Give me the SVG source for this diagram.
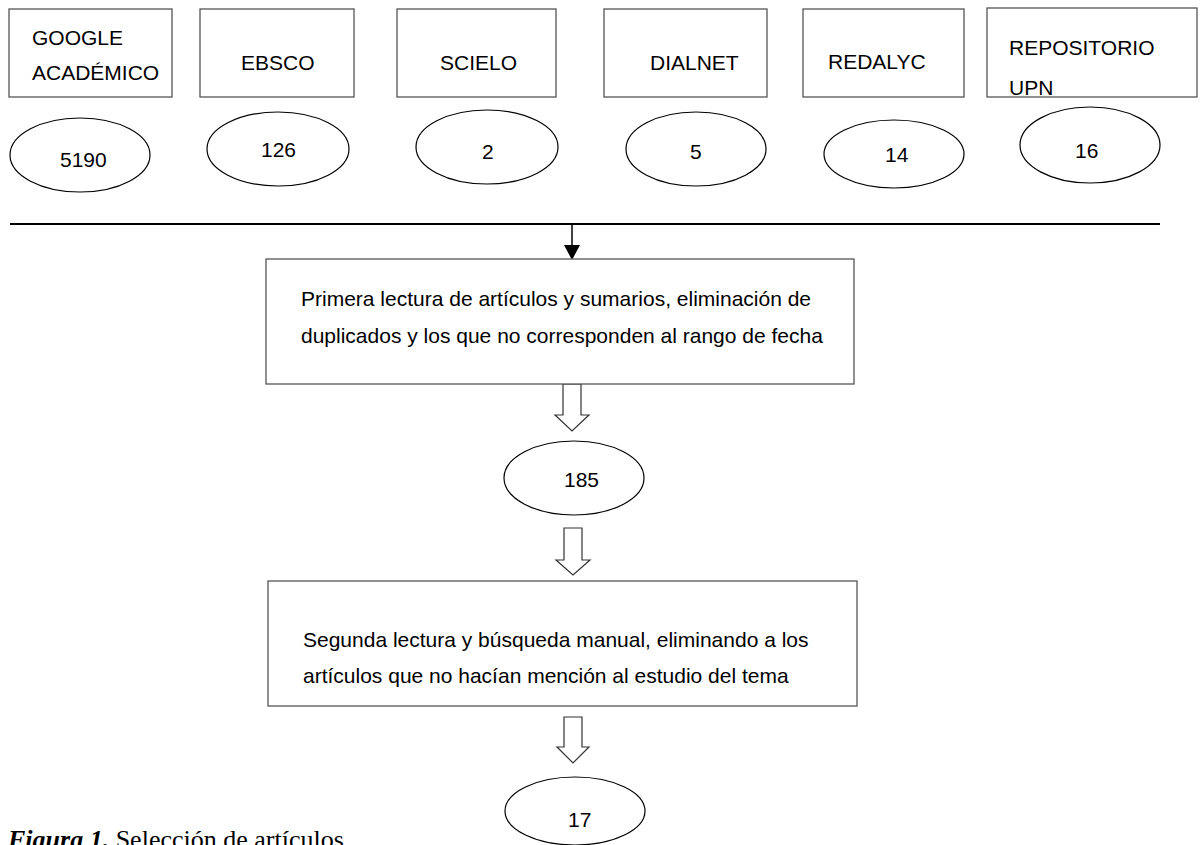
<svg xmlns="http://www.w3.org/2000/svg" width="1203" height="845" viewBox="0 0 1203 845">
<defs>
<style>
.box{fill:#fff;stroke:#555;stroke-width:1.3}
.ell{fill:#fff;stroke:#000;stroke-width:1.2}
.t{font-family:"Liberation Sans",Arial,sans-serif;font-size:21px;fill:#000}
.harrow{fill:#fff;stroke:#333;stroke-width:1.2}
.cap{font-family:"Liberation Serif","Times New Roman",serif;font-size:26px;fill:#000}
</style>
</defs>
<rect width="1203" height="845" fill="#fff"/>

<g id="google"><rect class="box" x="9" y="9" width="163" height="88"/><text class="t" x="32" y="45">GOOGLE</text><text class="t" x="32" y="80">ACADÉMICO</text></g>
<g id="ebsco"><rect class="box" x="200" y="9" width="154" height="88"/><text class="t" x="241" y="70">EBSCO</text></g>
<g id="scielo"><rect class="box" x="397" y="9" width="159" height="88"/><text class="t" x="440" y="70">SCIELO</text></g>
<g id="dialnet"><rect class="box" x="604" y="9" width="163" height="88"/><text class="t" x="650" y="70">DIALNET</text></g>
<g id="redalyc"><rect class="box" x="803" y="9" width="161" height="88"/><text class="t" x="828" y="69">REDALYC</text></g>
<g id="repositorio"><rect class="box" x="987" y="8" width="210" height="89"/><text class="t" x="1009" y="55">REPOSITORIO</text><text class="t" x="1009" y="95">UPN</text></g>

<g id="n5190"><ellipse class="ell" cx="80" cy="155" rx="70" ry="37"/><text class="t" x="60" y="167">5190</text></g>
<g id="n126"><ellipse class="ell" cx="278" cy="149" rx="71" ry="37"/><text class="t" x="261" y="157">126</text></g>
<g id="n2"><ellipse class="ell" cx="487" cy="147" rx="71" ry="37"/><text class="t" x="482" y="159">2</text></g>
<g id="n5"><ellipse class="ell" cx="696" cy="149" rx="70" ry="37"/><text class="t" x="690" y="159">5</text></g>
<g id="n14"><ellipse class="ell" cx="894" cy="154" rx="70" ry="34"/><text class="t" x="885" y="162">14</text></g>
<g id="n16"><ellipse class="ell" cx="1090" cy="145" rx="70" ry="38"/><text class="t" x="1075" y="158">16</text></g>

<g id="connectors">
<line x1="10" y1="224" x2="1160" y2="224" stroke="#000" stroke-width="2"/>
<path d="M572,224 L572,245" stroke="#000" stroke-width="1.5"/>
<polygon points="564,245 580,245 572,260" fill="#000"/>
<polygon class="harrow" points="563,384 581,384 581,415 589,415 572,431 555,415 563,415"/>
<polygon class="harrow" points="564,528 582,528 582,560 590,560 573,575 556,560 564,560"/>
<polygon class="harrow" points="564,717 582,717 582,747 589,747 573,763 557,747 564,747"/>
</g>

<g id="step1"><rect class="box" x="266" y="259" width="588" height="125"/><text class="t" x="301" y="306">Primera lectura de artículos y sumarios, eliminación de</text><text class="t" x="301" y="343">duplicados y los que no corresponden al rango de fecha</text></g>
<g id="n185"><ellipse class="ell" cx="574" cy="478" rx="70" ry="37"/><text class="t" x="564" y="487">185</text></g>
<g id="step2"><rect class="box" x="268" y="581" width="589" height="125"/><text class="t" x="303" y="647">Segunda lectura y búsqueda manual, eliminando a los</text><text class="t" x="303" y="683">artículos que no hacían mención al estudio del tema</text></g>
<g id="n17"><ellipse class="ell" cx="575" cy="811" rx="70" ry="34"/><text class="t" x="568" y="827">17</text></g>

<text class="cap" x="8" y="848"><tspan font-weight="bold" font-style="italic">Figura 1.</tspan> Selección de artículos</text>
</svg>
